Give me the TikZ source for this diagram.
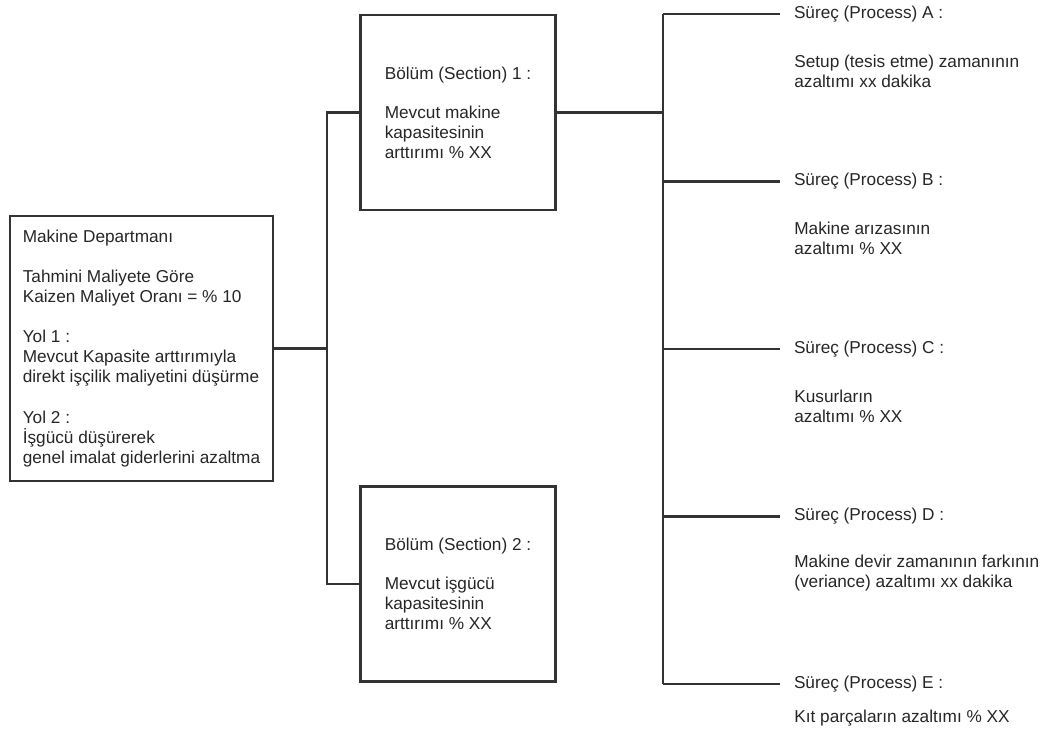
\documentclass[tikz,border=0pt]{standalone}
\usepackage{fontspec}
\setmainfont{Liberation Sans}
\tikzset{
  txt/.style={font=\fontsize{9.8}{11.4}\selectfont, text=black!85},
  box/.style={txt, draw=black!80, line width=1.2pt, align=left},
  kdept/.style={box, minimum width=5.26cm, minimum height=5.3cm},
  ksection/.style={box, minimum width=3.9cm, minimum height=3.9cm},
  khead/.style={txt, anchor=west, inner sep=0pt, outer xsep=0.28cm, outer ysep=0pt},
  kdesc/.style={txt, anchor=west, inner sep=0pt, align=left},
  link/.style={draw=black!80, line width=1.2pt},
}

\begin{document}
\begin{tikzpicture}[x=0.02cm, y=-0.02cm]
    \useasboundingbox (0,0) rectangle (1052,733);
    % boxes
    \node[kdept] (dept) at (141.5,348.5) {Makine Departmanı\\[0.4cm]
      Tahmini Maliyete Göre\\ Kaizen Maliyet Oranı = \% 10\\[0.4cm]
      Yol 1 :\\ Mevcut Kapasite arttırımıyla\\ direkt işçilik maliyetini düşürme\\[0.4cm]
      Yol 2 :\\ İşgücü düşürerek\\ genel imalat giderlerini azaltma};
    \node[ksection] (sec1) at (458,112.5) {Bölüm (Section) 1 :\\[0.38cm]
      Mevcut makine\\ kapasitesinin\\ arttırımı \% XX};
    \node[ksection] (sec2) at (458,584) {Bölüm (Section) 2 :\\[0.38cm]
      Mevcut işgücü\\ kapasitesinin\\ arttırımı \% XX};
    % processes
    \node[khead] (headA) at (780,14) {Süreç (Process) A :};
    \node[khead] (headB) at (780,181.5) {Süreç (Process) B :};
    \node[khead] (headC) at (780,349) {Süreç (Process) C :};
    \node[khead] (headD) at (780,516.5) {Süreç (Process) D :};
    \node[khead] (headE) at (780,684) {Süreç (Process) E :};
    \node[kdesc] (descA) at (794,71.5) {Setup (tesis etme) zamanının\\ azaltımı xx dakika};
    \node[kdesc] (descB) at (794,238.5) {Makine arızasının\\ azaltımı \% XX};
    \node[kdesc] (descC) at (794,406.5) {Kusurların\\ azaltımı \% XX};
    \node[kdesc] (descD) at (794,573.5) {Makine devir zamanının farkının\\ (veriance) azaltımı xx dakika};
    \node[kdesc] (descE) at (794,718) {Kıt parçaların azaltımı \% XX};
    % junctions
    \coordinate (jL) at (327,348.5);
    \coordinate (jR) at (663,112.5);
    \foreach \p/\y in {A/14,B/181.5,C/349,D/516.5,E/684}
      \coordinate (b\p) at (663,\y);
    % connectors
    \draw[link] (dept) -- (jL);
    \draw[link] (sec1.west) -| (jL) |- (sec2.west);
    \draw[link] (sec1) -- (jR);
    \draw[link] (bA) -- (bE);
    \foreach \p in {A,B,C,D,E}
      \draw[link] (b\p) -- (head\p);
  \end{tikzpicture}
\end{document}
